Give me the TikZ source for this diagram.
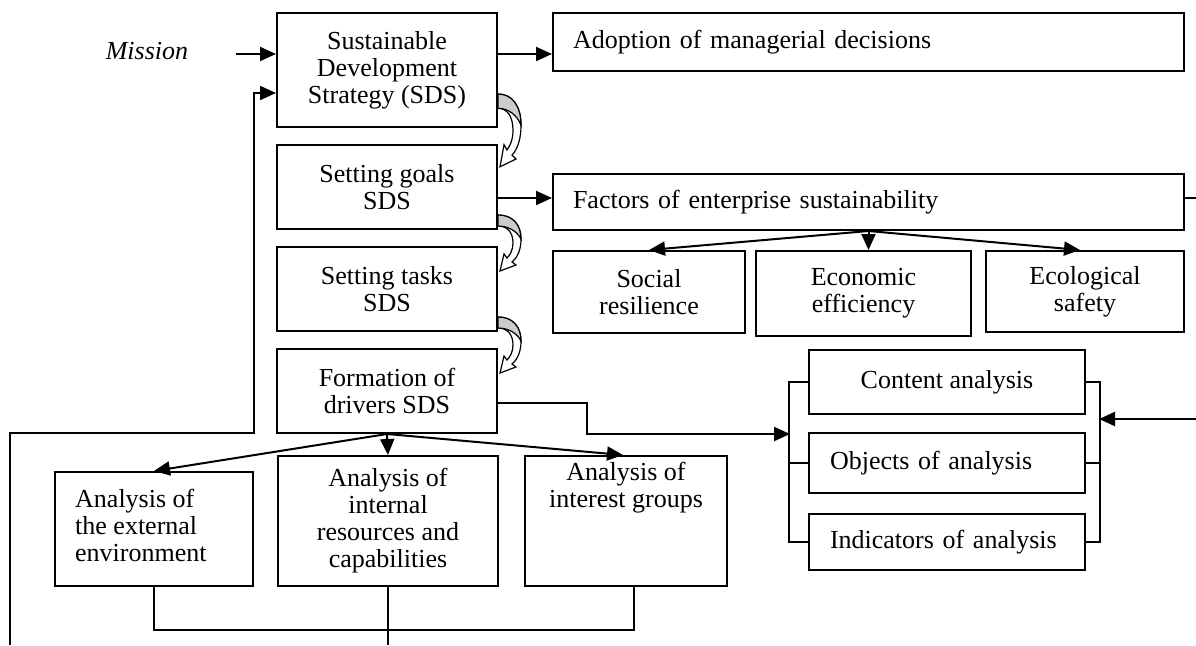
\documentclass[tikz,border=0pt]{standalone}
\usepackage{fontspec}
\setmainfont{Liberation Serif}
\usetikzlibrary{arrows.meta}
\newcommand\bigfs{\fontsize{26}{27}\selectfont}
\begin{document}
\begin{tikzpicture}[x=1pt,y=-1pt,
  bx/.style={draw, line width=2pt, inner sep=0pt, align=center, font=\bigfs},
  arr/.style={line width=2pt, -{Triangle[length=16pt,width=14pt]}},
  ln/.style={line width=2pt},
  curv/.pic={
    \draw[line width=1.2pt, fill=white] (0,11) .. controls (9,11) and (15,17) .. (15,28)
      .. controls (15,35) and (12,40) .. (9,43) -- (6,39) -- (2,56) -- (18,50) -- (14,47)
      .. controls (20,42) and (23,34) .. (23,24) .. controls (23,9) and (14,0) .. (0,0) -- cycle;
    \draw[line width=1.2pt, fill=gray!40] (0,0) .. controls (14,0) and (23,9) .. (23,24)
      .. controls (19,16) and (10,11) .. (0,11) -- cycle;
  }]
\useasboundingbox (0,0) rectangle (1196,645);

% left column
\node[font=\bigfs\itshape, inner sep=0pt] (mission) at (147,51) {Mission};
\node[bx, minimum width=220pt, minimum height=114pt] (sds) at (387,70) {Sustainable\\Development\\Strategy (SDS)};
\node[bx, minimum width=220pt, minimum height=84pt] (goals) at (387,187) {Setting goals\\SDS};
\node[bx, minimum width=220pt, minimum height=84pt] (tasks) at (387,289) {Setting tasks\\SDS};
\node[bx, minimum width=220pt, minimum height=84pt] (formation) at (387,391) {Formation of\\drivers SDS};

% right top
\node[bx, align=left, inner xsep=20pt, text width=591pt, minimum height=58pt] (adopt) at (868.5,42) {Adoption of managerial decisions};
\node[bx, align=left, inner xsep=20pt, text width=591pt, minimum height=56pt] (factors) at (868.5,202) {Factors of enterprise sustainability};
\node[bx, minimum width=192pt, minimum height=82pt] (social) at (649,292) {Social\\resilience};
\node[bx, minimum width=215pt, minimum height=85pt] (econ) at (863.5,293.5) {Economic\\efficiency};
\node[bx, minimum width=198pt, minimum height=81pt] (ecol) at (1085,291.5) {Ecological\\safety};

% analysis column
\node[bx, minimum width=276pt, minimum height=64pt] (content) at (947,382) {Content analysis};
\node[bx, align=left, inner xsep=21pt, text width=234pt, minimum height=60pt] (objects) at (947,463) {Objects of analysis};
\node[bx, align=left, inner xsep=21pt, text width=234pt, minimum height=56pt] (indic) at (947,542) {Indicators of analysis};

% bottom row
\node[bx, minimum width=198pt, minimum height=114pt] (ext) at (154,529) {};
\node[font=\bigfs, align=left, inner sep=0pt, anchor=north west] (extT) at ([xshift=21pt,yshift=-18pt]ext.north west) {Analysis of\\the external\\environment};
\node[bx, minimum width=220pt, minimum height=130pt] (internal) at (388,521) {Analysis of\\internal\\resources and\\capabilities};
\node[bx, minimum width=202pt, minimum height=130pt] (interest) at (626,521) {};
\node[font=\bigfs, align=center, inner sep=0pt, anchor=north] (interestT) at ([yshift=-7pt]interest.north) {Analysis of\\interest groups};

% coordinates for free ends
\coordinate (mstart) at (236,54);
\coordinate (fbA) at (10,645);
\coordinate (fbB) at (254,433);
\coordinate (lbr) at (790,434);
\coordinate (rin) at (1196,419);
\coordinate (rbr) at (1099,419);
\coordinate (fout) at (1196,198);
\coordinate (ibot) at (388,645);

% connectors
\draw[arr] (mstart) -- (mstart -| sds.west);
\draw[arr] (mstart -| sds.east) -- (mstart -| adopt.west);
\draw[arr] (fbA) |- (fbB) |- ([yshift=-23pt]sds.west);
\draw[arr] ([yshift=-11pt]goals.east) coordinate (g1) -- (g1 -| factors.west);
\draw[ln] (factors.east |- fout) -- (fout);

\draw[arr] (factors.south) -- (social.north);
\draw[arr] (factors.south) -- (factors.south |- econ.north);
\draw[arr] (factors.south) -- ([xshift=-5pt]ecol.north);

\draw[arr] (formation.south) -- (ext.north);
\draw[arr] (formation.south) -- (internal.north);
\draw[arr] (formation.south) -- ([xshift=-3pt]interest.north);

\draw[arr] ([yshift=-12pt]formation.east) -- ++(89,0) |- (lbr);
\draw[ln] (content.west) -- ++(-19,0) |- (indic.west);
\draw[ln] (objects.west) -- ++(-19,0);
\draw[ln] (content.east) -- ++(14,0) |- (indic.east);
\draw[ln] (objects.east) -- ++(14,0);
\draw[arr] (rin) -- (rbr);

\draw[ln] (ext.south) -- ++(0,43) -| ([xshift=8pt]interest.south);
\draw[ln] (internal.south) -- (ibot);

% curved arrows between steps
\pic[yscale=1.3] at ([yshift=34pt]sds.south east) {curv};
\pic at ([yshift=15pt]goals.south east) {curv};
\pic at ([yshift=15pt]tasks.south east) {curv};
\end{tikzpicture}
\end{document}
